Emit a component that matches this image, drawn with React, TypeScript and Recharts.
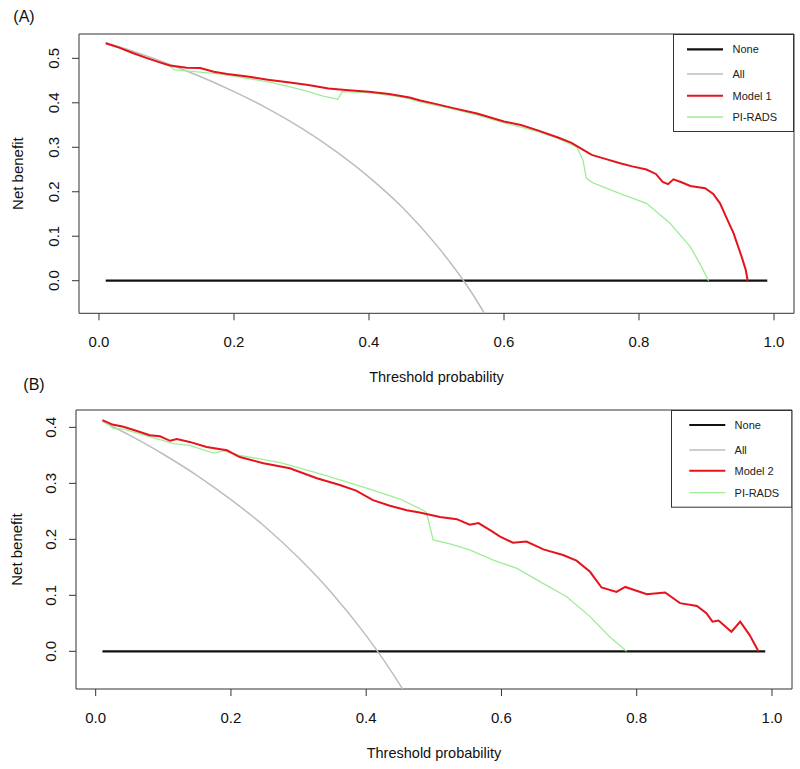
import { LineChart, Line, XAxis, YAxis, ReferenceArea, Legend } from "recharts";

// axis ticks
const xTicks = [0, 0.2, 0.4, 0.6, 0.8, 1.0];
const yTicksA = [0, 0.1, 0.2, 0.3, 0.4, 0.5];
const yTicksB = [0, 0.1, 0.2, 0.3, 0.4];

// reference lines
const noneX = [0.01, 0.99];
const noneY = [0, 0];

// panel A
const allXA = [0.01, 0.05, 0.1, 0.15, 0.2, 0.25, 0.3, 0.35, 0.4, 0.45, 0.5, 0.55, 0.6];
const allYA = [0.535, 0.516, 0.489, 0.459, 0.425, 0.387, 0.343, 0.292, 0.233, 0.164, 0.08, -0.022, -0.15];

const model1X = [
  0.01, 0.03, 0.05, 0.07, 0.09, 0.105, 0.13, 0.15, 0.17, 0.19, 0.22, 0.25, 0.28, 0.31, 0.34, 0.37, 0.4, 0.43,
  0.46, 0.476, 0.5, 0.525, 0.56, 0.6, 0.625, 0.65, 0.68, 0.7, 0.713, 0.73, 0.75, 0.772, 0.79, 0.811, 0.825,
  0.835, 0.843, 0.851, 0.862, 0.876, 0.898, 0.91, 0.92, 0.93, 0.94, 0.952, 0.958, 0.961,
];
const model1Y = [
  0.534, 0.524, 0.512, 0.501, 0.491, 0.484, 0.479, 0.478, 0.47, 0.465, 0.459, 0.452, 0.446, 0.44, 0.432, 0.428,
  0.425, 0.42, 0.412, 0.405, 0.397, 0.388, 0.376, 0.358, 0.35, 0.338, 0.322, 0.31, 0.298, 0.283, 0.274, 0.264,
  0.257, 0.25, 0.24, 0.222, 0.217, 0.228, 0.222, 0.213, 0.208, 0.195, 0.174, 0.14, 0.107, 0.054, 0.025, 0,
];

const piradsXA = [
  0.01, 0.05, 0.09, 0.105, 0.112, 0.15, 0.184, 0.209, 0.258, 0.283, 0.308, 0.332, 0.354, 0.36, 0.4, 0.45, 0.476,
  0.525, 0.56, 0.6, 0.65, 0.68, 0.708, 0.717, 0.722, 0.732, 0.772, 0.811, 0.846, 0.876, 0.89, 0.903,
];
const piradsYA = [
  0.534, 0.512, 0.491, 0.483, 0.474, 0.469, 0.464, 0.458, 0.445, 0.436, 0.426, 0.415, 0.408, 0.425, 0.423, 0.413,
  0.402, 0.386, 0.373, 0.355, 0.335, 0.32, 0.3, 0.271, 0.23, 0.22, 0.196, 0.174, 0.129, 0.076, 0.039, 0,
];

// panel B
const allXB = [0.01, 0.05, 0.1, 0.15, 0.2, 0.25, 0.3, 0.35, 0.4, 0.45, 0.5];
const allYB = [0.411, 0.386, 0.352, 0.314, 0.271, 0.223, 0.167, 0.103, 0.028, -0.06, -0.166];

const model2X = [
  0.01, 0.025, 0.041, 0.06, 0.08, 0.095, 0.11, 0.12, 0.139, 0.164, 0.194, 0.213, 0.248, 0.287, 0.327, 0.361, 0.385,
  0.41, 0.435, 0.46, 0.479, 0.509, 0.534, 0.553, 0.566, 0.585, 0.598, 0.617, 0.637, 0.662, 0.691, 0.711, 0.731,
  0.748, 0.77, 0.783, 0.815, 0.842, 0.864, 0.889, 0.903, 0.912, 0.921, 0.94, 0.953, 0.967, 0.98,
];
const model2Y = [
  0.413, 0.405, 0.401, 0.394, 0.386, 0.384, 0.376, 0.379, 0.374, 0.365, 0.359, 0.347, 0.336, 0.327, 0.309, 0.297,
  0.287, 0.27, 0.26, 0.252, 0.248, 0.24, 0.236, 0.226, 0.229, 0.215, 0.205, 0.194, 0.196, 0.182, 0.172, 0.162,
  0.142, 0.114, 0.106, 0.115, 0.102, 0.105, 0.086, 0.081, 0.068, 0.053, 0.055, 0.035, 0.053, 0.029, 0,
];

const piradsXB = [
  0.01, 0.026, 0.041, 0.09, 0.115, 0.139, 0.174, 0.189, 0.213, 0.273, 0.337, 0.41, 0.45, 0.479, 0.489, 0.499, 0.524,
  0.553, 0.588, 0.623, 0.662, 0.696, 0.731, 0.76, 0.785,
];
const piradsYB = [
  0.413, 0.398, 0.397, 0.38, 0.371, 0.368, 0.354, 0.358, 0.35, 0.337, 0.315, 0.288, 0.272, 0.255, 0.248, 0.199,
  0.192, 0.181, 0.163, 0.148, 0.121, 0.098, 0.062, 0.026, 0,
];

const FONT = '"Liberation Sans", Arial, Helvetica, sans-serif';
const INK = "#111";

const zip = (xs: number[], ys: number[]) => xs.map((x, i) => ({ x, y: ys[i] }));

function RotatedTick(props: any) {
  const { x, y, payload } = props;
  return (
    <text transform={`translate(${x},${y}) rotate(-90)`} textAnchor="middle" fontSize={15} fill={INK}>
      {Number(payload.value).toFixed(1)}
    </text>
  );
}

function LegendBox({ payload, box, widths }: any) {
  const order = Object.keys(widths);
  const items = [...(payload ?? [])].sort((a: any, b: any) => order.indexOf(a.value) - order.indexOf(b.value));
  return (
    <svg width={box.w} height={box.h} style={{ display: "block" }}>
      <rect x={0.5} y={0.5} width={box.w - 1} height={box.h - 1} fill="white" stroke="#333" />
      {items.map((it: any, i: number) => (
        <g key={it.value}>
          <line x1={box.lineX1} x2={box.lineX2} y1={box.rows[i]} y2={box.rows[i]} stroke={it.color} strokeWidth={widths[it.value]} />
          <text x={box.textX} y={box.rows[i] + 4} fontSize={11} fill="#222">
            {it.value}
          </text>
        </g>
      ))}
    </svg>
  );
}

function Panel(props: any) {
  const { top, height, margin, yWidth, xHeight, xDomain, yDomain, yTicks, all, model, modelName, pirads, tickGap, xLabelOffset, yLabelOffset, box } = props;
  const widths: Record<string, number> = { None: 2.2, All: 1.5, [modelName]: 2, "PI-RADS": 1.3 };
  return (
    <div style={{ position: "absolute", left: 0, top }}>
      <LineChart width={800} height={height} margin={margin}>
        <XAxis
          type="number"
          dataKey="x"
          domain={xDomain}
          ticks={xTicks}
          interval={0}
          allowDataOverflow
          axisLine={false}
          tickSize={7}
          tickMargin={tickGap}
          tickLine={{ stroke: "#333" }}
          tick={{ fill: INK, fontSize: 15 }}
          tickFormatter={(v: number) => v.toFixed(1)}
          height={xHeight}
          label={{ value: "Threshold probability", position: "insideBottom", offset: xLabelOffset, fill: INK, fontSize: 14.5 }}
        />
        <YAxis
          type="number"
          domain={yDomain}
          ticks={yTicks}
          interval={0}
          allowDataOverflow
          axisLine={false}
          tickSize={7}
          tickMargin={13.5}
          tickLine={{ stroke: "#333" }}
          tick={<RotatedTick />}
          width={yWidth}
          label={{ value: "Net benefit", angle: -90, position: "insideLeft", offset: yLabelOffset, fill: INK, fontSize: 15, style: { textAnchor: "middle" } }}
        />
        <ReferenceArea x1={xDomain[0]} x2={xDomain[1]} y1={yDomain[0]} y2={yDomain[1]} fill="none" stroke="#333" strokeWidth={1} />
        <Line data={zip(noneX, noneY)} dataKey="y" name="None" stroke={INK} strokeWidth={widths.None} dot={false} isAnimationActive={false} />
        <Line data={all} dataKey="y" name="All" type="monotone" stroke="#bdbdbd" strokeWidth={widths.All} dot={false} isAnimationActive={false} />
        <Line data={pirads} dataKey="y" name="PI-RADS" stroke="#9eed98" strokeWidth={widths["PI-RADS"]} dot={false} isAnimationActive={false} />
        <Line data={model} dataKey="y" name={modelName} stroke="#e5141c" strokeWidth={widths[modelName]} dot={false} isAnimationActive={false} />
        <Legend
          layout="horizontal"
          align="center"
          verticalAlign="middle"
          wrapperStyle={{ left: box.left, top: box.top, width: box.w, height: box.h, margin: 0 }}
          content={(p: any) => <LegendBox payload={p.payload} box={box} widths={widths} />}
        />
      </LineChart>
    </div>
  );
}

export default function App() {
  return (
    <div style={{ position: "absolute", left: 0, top: 0, width: 800, height: 769, background: "white", fontFamily: FONT }}>
      <Panel
        top={0}
        height={385}
        margin={{ top: 34, right: 6, bottom: 0, left: 0 }}
        yWidth={79}
        xHeight={71.7}
        xDomain={[-0.0296, 1.0296]}
        yDomain={[-0.0733, 0.5547]}
        yTicks={yTicksA}
        all={zip(allXA, allYA)}
        model={zip(model1X, model1Y)}
        modelName="Model 1"
        pirads={zip(piradsXA, piradsYA)}
        tickGap={15.7}
        xLabelOffset={3}
        yLabelOffset={18}
        box={{ left: 673, top: 34, w: 121, h: 98, lineX1: 14, lineX2: 50, textX: 59.5, rows: [15.3, 40, 61.7, 83] }}
      />
      <Panel
        top={385}
        height={384}
        margin={{ top: 25, right: 8, bottom: 0, left: 0 }}
        yWidth={76}
        xHeight={80}
        xDomain={[-0.0291, 1.0296]}
        yDomain={[-0.0673, 0.431]}
        yTicks={yTicksB}
        all={zip(allXB, allYB)}
        model={zip(model2X, model2Y)}
        modelName="Model 2"
        pirads={zip(piradsXB, piradsYB)}
        tickGap={16.7}
        xLabelOffset={11}
        yLabelOffset={16.5}
        box={{ left: 670.7, top: 25, w: 121.3, h: 97.7, lineX1: 18.3, lineX2: 54.3, textX: 63.6, rows: [15, 40, 60.7, 82.7] }}
      />
      <svg width={800} height={769} style={{ position: "absolute", left: 0, top: 0, pointerEvents: "none" }}>
        <text x={13.3} y={21.6} fontSize={16} fill={INK}>
          (A)
        </text>
        <text x={23.3} y={390} fontSize={16} fill={INK}>
          (B)
        </text>
      </svg>
    </div>
  );
}
